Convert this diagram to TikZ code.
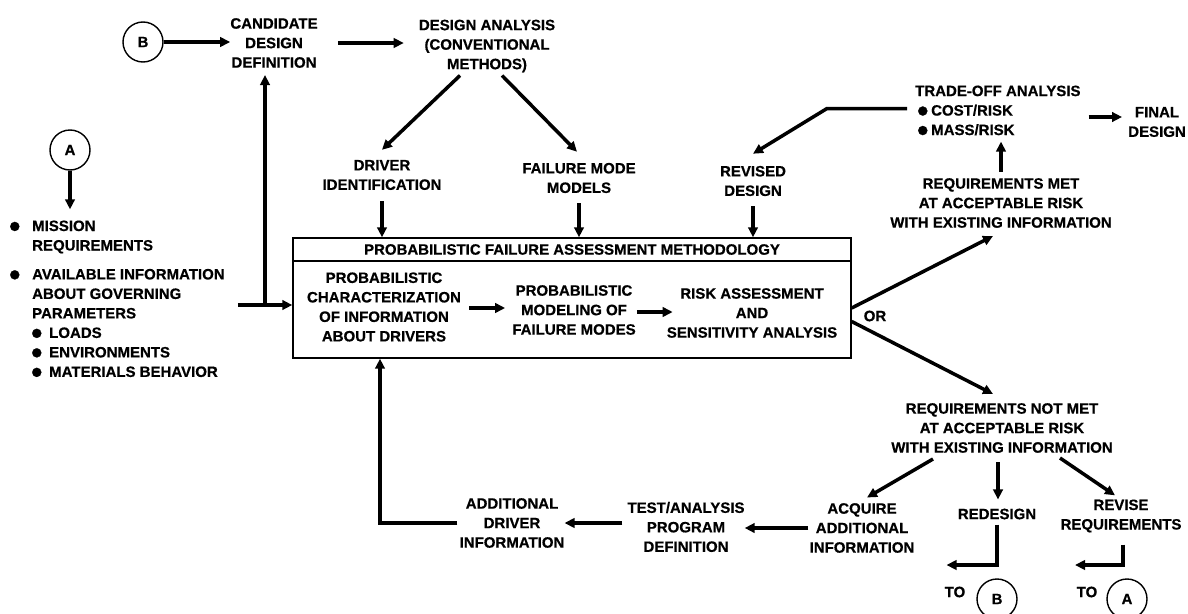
\documentclass[tikz,border=0pt]{standalone}
\usepackage{fontspec}
\setmainfont{Liberation Sans}[BoldFeatures={FakeBold=0.6}]
\usetikzlibrary{arrows.meta}
% label font and list bullet
\newcommand\lbf{\fontsize{15pt}{19.5pt}\selectfont\bfseries}
\newcommand\bigbul{\raisebox{-6pt}[0pt][0pt]{\fontsize{32pt}{19.5pt}\selectfont\textbullet}}
\begin{document}
\begin{tikzpicture}[x=1pt,y=-1pt,
  lbl/.style={font=\lbf, align=center, inner sep=0pt},
  lbll/.style={font=\lbf, align=left, inner sep=0pt},
  conn/.style={line width=3.5pt, -{Triangle[length=10pt,width=9.5pt]}, line join=miter},
  frame/.style={draw, line width=1.4pt, inner sep=0pt},
  tag/.style={circle, draw, line width=1.4pt, minimum size=40pt, inner sep=0pt, font=\lbf}]
\fill[white] (0,0) rectangle (1188,613);
\useasboundingbox (0,0) rectangle (1188,613);

% ---- top row ----
\node[tag] (cB) at (143,42) {B};
\node[lbl] (cand) at (274,43) {CANDIDATE\\DESIGN\\DEFINITION};
\node[lbl] (danal) at (487,46) {DESIGN ANALYSIS\\(CONVENTIONAL\\METHODS)};
\node[lbl] (drv) at (382,175) {DRIVER\\IDENTIFICATION};
\node[lbl] (fmm) at (579,178) {FAILURE MODE\\MODELS};
\node[lbl] (rev) at (753,181) {REVISED\\DESIGN};
\node[lbll, anchor=west] (trade) at (915,110.5)
  {TRADE-OFF ANALYSIS\\\hspace*{2pt}\makebox[14pt][l]{\bigbul}COST/RISK\\\hspace*{2pt}\makebox[14pt][l]{\bigbul}MASS/RISK};
\node[lbl] (final) at (1157,122) {FINAL\\DESIGN};
\node[lbl] (reqmet) at (1001,203) {REQUIREMENTS MET\\AT ACCEPTABLE RISK\\WITH EXISTING INFORMATION};

% ---- inputs on the left ----
\node[tag] (cA) at (70,150) {A};
\node[lbll, anchor=west] (req) at (9,237)
  {\makebox[23pt][l]{\bigbul}MISSION\\\hspace*{23pt}REQUIREMENTS};
\node[lbll, anchor=west] (avail) at (9,323)
  {\makebox[23pt][l]{\bigbul}AVAILABLE INFORMATION\\
   \hspace*{23pt}ABOUT GOVERNING\\
   \hspace*{23pt}PARAMETERS\\
   \hspace*{22pt}\makebox[18pt][l]{\bigbul}LOADS\\
   \hspace*{22pt}\makebox[18pt][l]{\bigbul}ENVIRONMENTS\\
   \hspace*{22pt}\makebox[18pt][l]{\bigbul}MATERIALS BEHAVIOR};

% ---- methodology box ----
\node[frame, minimum width=558pt, minimum height=23pt, font=\lbf] (hdr) at (572,249.5)
  {PROBABILISTIC FAILURE ASSESSMENT METHODOLOGY};
\node[frame, minimum width=558pt, minimum height=97pt] (body) at (572,309.5) {};
\node[lbl] (pc) at (384,307) {PROBABILISTIC\\CHARACTERIZATION\\OF INFORMATION\\ABOUT DRIVERS};
\node[lbl] (pm) at (574,310) {PROBABILISTIC\\MODELING OF\\FAILURE MODES};
\node[lbl] (ra) at (752,313) {RISK ASSESSMENT\\AND\\SENSITIVITY ANALYSIS};
\node[lbl] (or) at (875,316) {OR};

% ---- lower branch ----
\node[lbl] (reqnot) at (1002,428) {REQUIREMENTS NOT MET\\AT ACCEPTABLE RISK\\WITH EXISTING INFORMATION};
\node[lbl] (acq) at (862,528) {ACQUIRE\\ADDITIONAL\\INFORMATION};
\node[lbl] (redes) at (997,514) {REDESIGN};
\node[lbl] (revreq) at (1121,516) {REVISE\\REQUIREMENTS};
\node[lbl] (test) at (686,527) {TEST/ANALYSIS\\PROGRAM\\DEFINITION};
\node[lbl] (addl) at (512,523) {ADDITIONAL\\DRIVER\\INFORMATION};
\node[lbl] (toB) at (955,592) {TO};
\node[tag] (tB) at (997,599) {B};
\node[lbl] (toA) at (1087,592) {TO};
\node[tag] (tA) at (1127,599) {A};

% ---- connectors ----
\draw[conn] (cB.east) -- (cB.east -| cand.west);
\draw[conn] ([xshift=20pt]cand.east) -- ([xshift=-15pt]cand.east -| danal.west);
\draw[conn] ([shift={(-27,3)}]danal.south) -- ([shift={(0,-10)}]drv.north);
\draw[conn] ([shift={(15,3)}]danal.south) -- ([shift={(-2,-11)}]fmm.north);
\draw[conn] ([yshift=-11pt]drv.south) -- (drv.south |- hdr.north);
\draw[conn] ([yshift=-10pt]fmm.south) -- (fmm.south |- hdr.north);
\draw[conn] ([yshift=-10pt]rev.south) -- (rev.south |- hdr.north);
\draw[conn] ([shift={(-8,-2)}]trade.west) -- ++(-80,0) -- ([shift={(0,-12)}]rev.north);
\draw[conn] ([shift={(8,6.5)}]trade.east) -- ([shift={(-6,-5)}]final.west);
\draw[conn] ([yshift=6pt]reqmet.north) -- ([yshift=-6pt]reqmet.north |- trade.south);
\draw[conn] ([shift={(0,-1.5)}]body.east) -- ([shift={(-8,8)}]reqmet.south);
\draw[conn] ([shift={(0,12)}]body.east) -- ([shift={(-9,-9)}]reqnot.north);

\coordinate (jn) at (265,305);
\draw[conn] ([xshift=13pt]avail.east |- jn) -- (jn -| body.west);
\draw[conn] (jn) -- ([yshift=-7pt]jn |- cand.south);
\draw[conn] (cA.south) -- ([yshift=11pt]cA.south |- req.north);

\draw[conn] ([shift={(8,1)}]pc.east) -- ([shift={(-7,-2)}]pm.west);
\draw[conn] ([shift={(1,2)}]pm.east) -- ([shift={(6,-1)}]ra.west);

\draw[conn] ([shift={(-69,6)}]reqnot.south) -- ([shift={(5,-5.5)}]acq.north);
\draw[conn] ([shift={(-4,9)}]reqnot.south) -- ([shift={(1,-9)}]redes.north);
\draw[conn] ([shift={(58,5)}]reqnot.south) -- ([shift={(-6,-4)}]revreq.north);
\draw[conn] ([xshift=-1pt]acq.west) -- (acq.west -| test.east);
\draw[conn] ([xshift=-5pt]test.west |- addl) -- (addl.east);
\draw[conn] ([xshift=-2pt]addl.west) -| ([xshift=-4pt]pc.south |- body.south);
\draw[conn] ([yshift=-5pt]redes.south) |- ([shift={(2,-27)}]toB.west);
\draw[conn] ([shift={(2,12)}]revreq.south) |- ([shift={(-1.5,-27)}]toA.west);
\end{tikzpicture}
\end{document}
